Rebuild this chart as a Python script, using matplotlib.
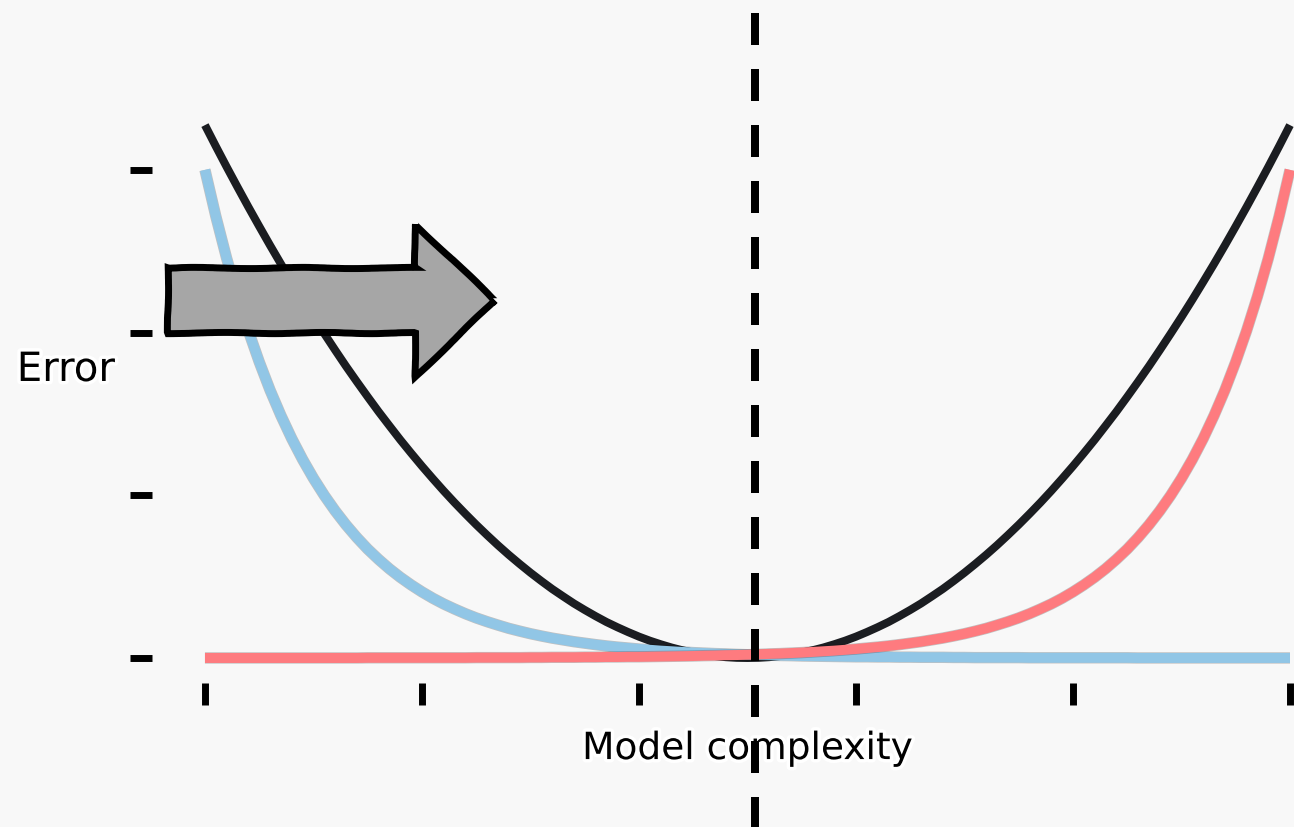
import numpy as np
import matplotlib.pyplot as plt
import matplotlib.patches as mpatches
import matplotlib.patheffects as pe

# model complexity grid, 0 .. 10 in steps of 0.1
complexity = [i / 10 for i in range(101)]

# total error (black)
total_err = [3.275, 3.145, 3.018, 2.894, 2.772, 2.653, 2.536, 2.422, 2.311, 2.202,
             2.096, 1.993, 1.892, 1.793, 1.698, 1.605, 1.514, 1.427, 1.341, 1.259,
             1.179, 1.102, 1.027, 0.955, 0.886, 0.819, 0.755, 0.693, 0.634, 0.578,
             0.524, 0.473, 0.424, 0.379, 0.335, 0.295, 0.257, 0.221, 0.189, 0.159,
             0.131, 0.106, 0.084, 0.064, 0.047, 0.033, 0.021, 0.012, 0.005, 0.001,
             0.0,
             0.001, 0.005, 0.012, 0.021, 0.033, 0.047, 0.064, 0.084, 0.106, 0.131,
             0.159, 0.189, 0.221, 0.257, 0.295, 0.335, 0.379, 0.424, 0.473, 0.524,
             0.578, 0.634, 0.693, 0.755, 0.819, 0.886, 0.955, 1.027, 1.102, 1.179,
             1.259, 1.341, 1.427, 1.514, 1.605, 1.698, 1.793, 1.892, 1.993, 2.096,
             2.202, 2.311, 2.422, 2.536, 2.653, 2.772, 2.894, 3.018, 3.145, 3.275]

# falling error (blue)
blue_err = [3.000, 2.715, 2.456, 2.222, 2.011, 1.820, 1.646, 1.490, 1.348, 1.220,
            1.104, 0.999, 0.904, 0.818, 0.740, 0.669, 0.606, 0.548, 0.496, 0.449,
            0.406, 0.367, 0.332, 0.301, 0.272, 0.246, 0.223, 0.202, 0.182, 0.165,
            0.149, 0.135, 0.122, 0.111, 0.100, 0.091, 0.082, 0.074, 0.067, 0.061,
            0.055, 0.050, 0.045, 0.041, 0.037, 0.033, 0.030, 0.027, 0.025, 0.022,
            0.020,
            0.018, 0.017, 0.015, 0.014, 0.012, 0.011, 0.010, 0.009, 0.008, 0.007,
            0.007, 0.006, 0.006, 0.005, 0.005, 0.004, 0.004, 0.004, 0.003, 0.003,
            0.002, 0.002, 0.002, 0.002, 0.002, 0.001, 0.001, 0.001, 0.001, 0.001,
            0.001, 0.001, 0.001, 0.001, 0.001, 0.0, 0.0, 0.0, 0.0, 0.0,
            0.0, 0.0, 0.0, 0.0, 0.0, 0.0, 0.0, 0.0, 0.0, 0.0]

# rising error (red)
red_err = [0.0, 0.0, 0.0, 0.0, 0.0, 0.0, 0.0, 0.0, 0.0, 0.0,
           0.0, 0.0, 0.0, 0.0, 0.0, 0.001, 0.001, 0.001, 0.001, 0.001,
           0.001, 0.001, 0.001, 0.001, 0.001, 0.002, 0.002, 0.002, 0.002, 0.002,
           0.003, 0.003, 0.004, 0.004, 0.004, 0.005, 0.005, 0.006, 0.006, 0.007,
           0.007, 0.008, 0.009, 0.010, 0.011, 0.012, 0.014, 0.015, 0.017, 0.018,
           0.020,
           0.022, 0.025, 0.027, 0.030, 0.033, 0.037, 0.041, 0.045, 0.050, 0.055,
           0.061, 0.067, 0.074, 0.082, 0.091, 0.100, 0.111, 0.122, 0.135, 0.149,
           0.165, 0.182, 0.202, 0.223, 0.246, 0.272, 0.301, 0.332, 0.367, 0.406,
           0.449, 0.496, 0.548, 0.606, 0.669, 0.740, 0.818, 0.904, 0.999, 1.104,
           1.220, 1.348, 1.490, 1.646, 1.820, 2.011, 2.222, 2.456, 2.715, 3.000]

x_ticks = [0, 2, 4, 6, 8, 10]
y_ticks = [0, 1, 2, 3]
best_x = 5.07

bg = '#f8f8f8'
fig = plt.figure(figsize=(12.94, 8.27), dpi=100, facecolor=bg)
ax = fig.add_axes([0, 0, 1, 1], facecolor=bg)

edge = lambda w: [pe.Stroke(linewidth=w + 1.0, foreground=(0, 0, 0, 0.22)), pe.Normal()]
ax.plot(complexity, total_err, color='#1b1d21', lw=5.8, solid_capstyle='butt',
        solid_joinstyle='round', zorder=2)
ax.plot(complexity, blue_err, color='#91c6e6', lw=7.2, solid_capstyle='butt',
        solid_joinstyle='round', zorder=3, path_effects=edge(7.2))
ax.plot(complexity, red_err, color='#fe7b7f', lw=7.2, solid_capstyle='butt',
        solid_joinstyle='round', zorder=4, path_effects=edge(7.2))

# dashed line at the sweet spot, drawn from the top down
ax.plot([best_x, best_x], [3.964, -1.2], color='black', lw=5.76,
        linestyle=(0, (4, 3)), zorder=10, clip_on=False)

ax.set_xlim(-1.889, 10.037)
ax.set_ylim(-1.039, 4.044)

for s in ax.spines.values():
    s.set_visible(False)
ax.spines['left'].set_position(('data', -0.59))
ax.spines['bottom'].set_position(('data', -0.221))
ax.set_xticks(x_ticks)
ax.set_yticks(y_ticks)
ax.set_xticklabels([])
ax.set_yticklabels([])
ax.tick_params(direction='inout', length=16, width=5, color='black')

halo = [pe.withStroke(linewidth=5, foreground='white')]
ax.text(-1.281, 1.77, 'Error', fontsize=29, family='DejaVu Sans', ha='center', va='center',
        path_effects=halo, zorder=6)
ax.text(5.0, -0.56, 'Model complexity', fontsize=27, family='DejaVu Sans', ha='center',
        va='center', path_effects=halo, zorder=6)

arrow = mpatches.FancyArrow(-0.341, 2.197, 3.014, 0, width=0.40, head_width=0.94,
                            head_length=0.737, length_includes_head=True,
                            facecolor='#a6a6a6', edgecolor='black', lw=5,
                            joinstyle='miter', zorder=8)
arrow.set_sketch_params(scale=0.6, length=150, randomness=4)
ax.add_patch(arrow)

fig.savefig('out.png', dpi=100, facecolor=bg)
